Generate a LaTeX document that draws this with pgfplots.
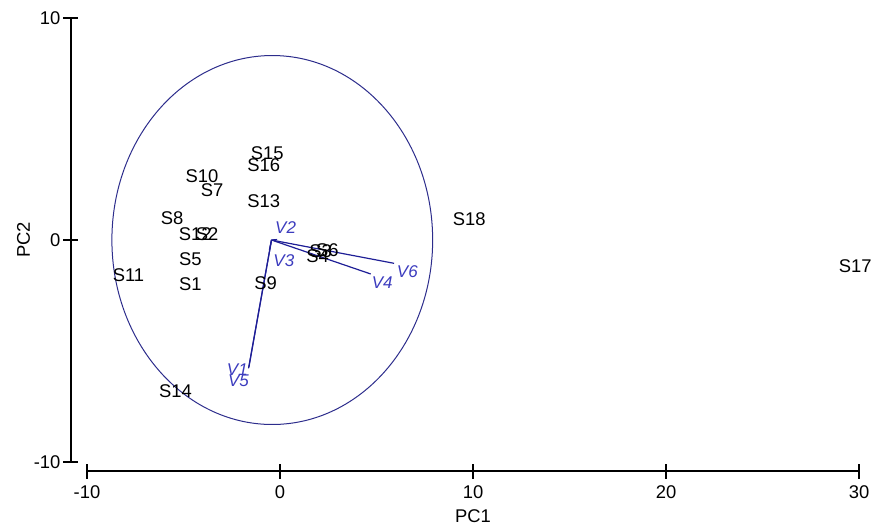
\documentclass[border=0pt]{standalone}
\usepackage{pgfplots}
\pgfplotsset{compat=1.18}
\usepackage{fontspec}
\setmainfont{Liberation Sans}
\definecolor{circ}{RGB}{45,45,140}
\definecolor{arr}{RGB}{30,30,150}
\definecolor{vlab}{RGB}{60,60,190}
\pgfplotstableread{
x y label
-4.64 -1.98 S1
-3.78 0.26 S2
2.10 -0.50 S3
1.95 -0.72 S4
-4.64 -0.87 S5
2.46 -0.45 S6
-3.52 2.25 S7
-5.59 0.98 S8
-0.75 -1.95 S9
-4.04 2.88 S10
-7.85 -1.58 S11
-4.39 0.26 S12
-0.84 1.77 S13
-5.42 -6.79 S14
-0.66 3.90 S15
-0.84 3.38 S16
29.81 -1.17 S17
9.80 0.95 S18
}\samples
\pgfplotstableread{
x y label
-2.21 -5.86 V1
0.29 0.57 V2
0.20 -0.95 V3
5.30 -1.94 V4
-2.15 -6.35 V5
6.60 -1.44 V6
}\vlabels
\begin{document}
\begin{tikzpicture}[font=\fontsize{9.2}{11}\selectfont]
\begin{axis}[
  scale only axis,
  width=386pt, height=222pt,
  xmin=-10, xmax=30, ymin=-10, ymax=10,
  axis x line*=bottom, axis y line*=left,
  axis x line shift=4.5pt, axis y line shift=8pt,
  axis line style={black, line width=0.6pt, -},
  xtick={-10,0,10,20,30}, ytick={-10,0,10},
  tick align=center, major tick length=7.5pt,
  tick style={black, line width=0.6pt},
  /pgf/number format/assume math mode=true,
  yticklabel style={xshift=2pt},
  xlabel={PC1}, ylabel={PC2},
  xlabel style={yshift=1.5pt},
  ylabel style={yshift=-5pt},
  clip=false,
]
% circle
\draw[circ, line width=0.5pt] (axis cs:-0.4,0) ellipse [x radius=8.31, y radius=8.31];
% variable vectors
\addplot[arr, line width=0.6pt] coordinates {(-0.44,0) (-1.61,-5.72)};
\addplot[arr, line width=0.6pt] coordinates {(-0.44,0) (-1.63,-5.78)};
\addplot[arr, line width=0.6pt] coordinates {(-0.44,0) (4.70,-1.53)};
\addplot[arr, line width=0.6pt] coordinates {(-0.44,0) (5.91,-1.05)};
\addplot[arr, line width=0.6pt] coordinates {(-0.44,0) (-0.15,0.02)};
\addplot[arr, line width=0.6pt] coordinates {(-0.44,0) (-0.55,-0.45)};
% variable labels
\addplot[only marks, mark=none, point meta=explicit symbolic,
  nodes near coords, nodes near coords align=center,
  every node near coord/.append style={text=vlab, font=\fontsize{8.5}{10}\selectfont\itshape, inner sep=0pt}]
  table[x=x, y=y, meta=label] {\vlabels};
% sample labels
\addplot[only marks, mark=none, point meta=explicit symbolic,
  nodes near coords, nodes near coords align=center,
  every node near coord/.append style={text=black, inner sep=0pt}]
  table[x=x, y=y, meta=label] {\samples};
\end{axis}
\pgfresetboundingbox
\path[use as bounding box] (-43.5pt,-32.5pt) rectangle (392.5pt,231pt);
\end{tikzpicture}
\end{document}
